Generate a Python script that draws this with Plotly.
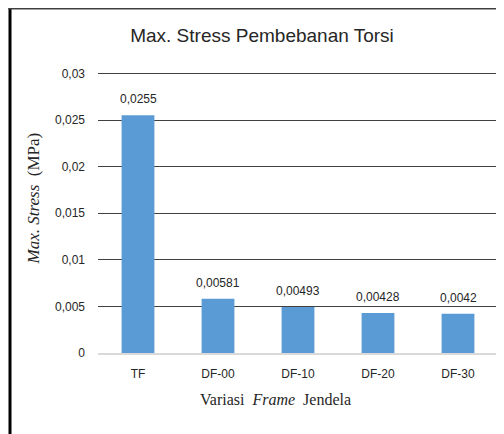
import plotly.graph_objects as go

categories = ["TF", "DF-00", "DF-10", "DF-20", "DF-30"]
max_stress = [0.0255, 0.00581, 0.00493, 0.00428, 0.0042]
tick_vals = [0, 0.005, 0.01, 0.015, 0.02, 0.025, 0.03]
tick_text = ["0", "0,005", "0,01", "0,015", "0,02", "0,025", "0,03"]
bar_labels = [str(v).replace(".", ",") for v in max_stress]

NARROW = "Liberation Sans Narrow, Arial Narrow, Liberation Sans, sans-serif"
SERIF = "Liberation Serif, Times New Roman, serif"

fig = go.Figure()
fig.add_trace(go.Bar(
    x=categories, y=max_stress,
    marker=dict(color="#5b9bd5", line=dict(width=0)),
    hoverinfo="skip",
))

annotations = []
for c, v, t in zip(categories, max_stress, bar_labels):
    annotations.append(dict(
        x=c, y=v, xref="x", yref="y", text=t, showarrow=False,
        yanchor="middle", yshift=16,
        font=dict(family=NARROW, size=12, color="#262626"),
    ))

annotations.append(dict(
    x=-0.1625, y=0.55, xref="paper", yref="paper",
    text="<i>Max. Stress</i>  (MPa)", textangle=-90, showarrow=False,
    xanchor="center", yanchor="middle",
    font=dict(family=SERIF, size=17, color="#262626"),
))
annotations.append(dict(
    x=0.4425, y=-0.164, xref="paper", yref="paper",
    text="Variasi  <i>Frame</i>  Jendela", showarrow=False,
    xanchor="center", yanchor="middle",
    font=dict(family=SERIF, size=16, color="#262626"),
))

fig.update_layout(
    width=504, height=434,
    margin=dict(l=90, r=14, t=64, b=89),
    paper_bgcolor="white", plot_bgcolor="white",
    bargap=0.59,
    showlegend=False,
    title=dict(
        text="Max. Stress Pembebanan Torsi",
        x=0.504, xanchor="center", y=0.936, yanchor="middle",
        font=dict(family=NARROW, size=19, color="#262626"),
    ),
    annotations=annotations,
    shapes=[
        dict(type="line", xref="paper", yref="paper",
             x0=-0.22, x1=-0.22, y0=1.235, y1=-0.35,
             line=dict(color="black", width=3)),
        dict(type="line", xref="paper", yref="paper",
             x0=-0.224, x1=1.0025, y0=1.225, y1=1.225,
             line=dict(color="#404040", width=1.5)),
    ],
)

fig.update_yaxes(
    range=[0, 0.03015], tickvals=tick_vals, ticktext=tick_text,
    showgrid=True, gridcolor="#404040", gridwidth=1.3,
    zeroline=False, showline=False,
    ticks="", ticklabelstandoff=12,
    tickfont=dict(family=NARROW, size=12, color="#262626"),
)
fig.update_xaxes(
    showgrid=False, showline=True, linecolor="#d9d9d9", linewidth=1.5,
    ticks="", ticklabelstandoff=9,
    tickfont=dict(family=NARROW, size=12, color="#262626"),
)

fig.write_html("out.html")
